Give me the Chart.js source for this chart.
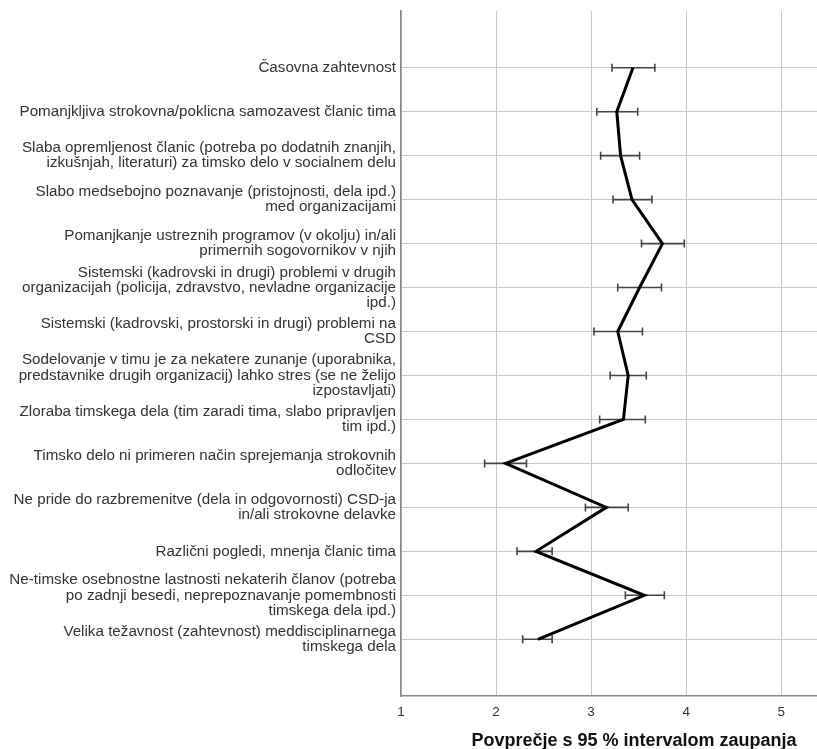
<!DOCTYPE html>
<html>
<head>
<meta charset="utf-8">
<script src="https://cdn.jsdelivr.net/npm/chart.js@4.4.0/dist/chart.umd.min.js"></script>
<style>
  html, body { margin: 0; padding: 0; background: #fff; overflow: hidden; }
  #wrap { width: 817px; height: 749px; position: relative; }
</style>
</head>
<body>
<div id="wrap"><canvas id="chart" width="817" height="749"></canvas></div>
<script>
// Category labels (already wrapped like in the original)
const categories = [
    ["Časovna zahtevnost"],
    ["Pomanjkljiva strokovna/poklicna samozavest članic tima"],
    ["Slaba opremljenost članic (potreba po dodatnih znanjih,", "izkušnjah, literaturi) za timsko delo v socialnem delu"],
    ["Slabo medsebojno poznavanje (pristojnosti, dela ipd.)", "med organizacijami"],
    ["Pomanjkanje ustreznih programov (v okolju) in/ali", "primernih sogovornikov v njih"],
    ["Sistemski (kadrovski in drugi) problemi v drugih", "organizacijah (policija, zdravstvo, nevladne organizacije", "ipd.)"],
    ["Sistemski (kadrovski, prostorski in drugi) problemi na", "CSD"],
    ["Sodelovanje v timu je za nekatere zunanje (uporabnika,", "predstavnike drugih organizacij) lahko stres (se ne želijo", "izpostavljati)"],
    ["Zloraba timskega dela (tim zaradi tima, slabo pripravljen", "tim ipd.)"],
    ["Timsko delo ni primeren način sprejemanja strokovnih", "odločitev"],
    ["Ne pride do razbremenitve (dela in odgovornosti) CSD-ja", "in/ali strokovne delavke"],
    ["Različni pogledi, mnenja članic tima"],
    ["Ne-timske osebnostne lastnosti nekaterih članov (potreba", "po zadnji besedi, neprepoznavanje pomembnosti", "timskega dela ipd.)"],
    ["Velika težavnost (zahtevnost) meddisciplinarnega", "timskega dela"]
];

// Means and 95 % confidence interval bounds
const means = [3.44, 3.27, 3.31, 3.43, 3.75, 3.51, 3.28, 3.39, 3.34, 2.10, 3.16, 2.42, 3.56, 2.44];
const lower = [3.22, 3.06, 3.10, 3.23, 3.53, 3.28, 3.03, 3.20, 3.09, 1.88, 2.94, 2.22, 3.36, 2.28];
const upper = [3.67, 3.49, 3.51, 3.64, 3.98, 3.74, 3.54, 3.58, 3.57, 2.32, 3.39, 2.59, 3.77, 2.59];

// Axis ticks
const xTicks = [1, 2, 3, 4, 5];
const xTitle = "Povprečje s 95 % intervalom zaupanja";

// Draw the error bars under the mean line
const errorBars = {
    id: 'errorBars',
    beforeDatasetsDraw(chart) {
        const ctx = chart.ctx;
        const xs = chart.scales.x;
        const ys = chart.scales.y;
        ctx.save();
        ctx.strokeStyle = '#444';
        ctx.lineWidth = 1.6;
        means.forEach((m, i) => {
            const y = ys.getPixelForValue(i);
            const x1 = xs.getPixelForValue(lower[i]);
            const x2 = xs.getPixelForValue(upper[i]);
            ctx.beginPath();
            ctx.moveTo(x1, y);
            ctx.lineTo(x2, y);
            ctx.moveTo(x1, y - 4);
            ctx.lineTo(x1, y + 4);
            ctx.moveTo(x2, y - 4);
            ctx.lineTo(x2, y + 4);
            ctx.stroke();
        });
        ctx.restore();
    }
};

// Axis title, centred under the (cropped) axis like the original
const axisTitle = {
    id: 'axisTitle',
    afterDraw(chart) {
        const ctx = chart.ctx;
        ctx.save();
        ctx.font = 'bold 18px "Liberation Sans", Arial, sans-serif';
        ctx.fillStyle = '#111';
        ctx.textAlign = 'center';
        ctx.textBaseline = 'middle';
        ctx.fillText(xTitle, 634, 741);
        ctx.restore();
    }
};

new Chart(document.getElementById('chart'), {
    type: 'line',
    data: {
        datasets: [{
            label: 'Povprečje',
            data: means.map((m, i) => ({ x: m, y: i })),
            borderColor: '#000',
            borderWidth: 3,
            pointRadius: 0,
            tension: 0,
            fill: false
        }]
    },
    options: {
        responsive: false,
        animation: false,
        layout: { padding: { top: 11, right: 0, left: 0, bottom: 0 } },
        plugins: {
            legend: { display: false },
            tooltip: { enabled: false }
        },
        scales: {
            x: {
                type: 'linear',
                min: 1,
                max: 5.376,
                afterBuildTicks: scale => { scale.ticks = xTicks.map(v => ({ value: v })); },
                afterFit: scale => { scale.height = 53; scale.paddingLeft = 0; scale.paddingRight = 0; },
                grid: { color: '#c8c8c8', lineWidth: 1, drawTicks: false },
                border: { display: true, color: '#888', width: 1.5 },
                ticks: {
                    color: '#333',
                    padding: 8,
                    font: { family: '"Liberation Sans", Arial, sans-serif', size: 13.5 }
                }
            },
            y: {
                type: 'linear',
                reverse: true,
                min: -1.29,
                max: 14.29,
                afterBuildTicks: scale => { scale.ticks = categories.map((c, i) => ({ value: i })); },
                afterFit: scale => { scale.width = 401; scale.paddingTop = 0; scale.paddingBottom = 0; },
                grid: { color: '#c8c8c8', lineWidth: 1, drawTicks: false },
                border: { display: true, color: '#888', width: 1.5 },
                ticks: {
                    color: '#333',
                    padding: 5,
                    font: { family: '"Liberation Sans", Arial, sans-serif', size: 15.2, lineHeight: 1.0 },
                    callback: value => categories[value]
                }
            }
        }
    },
    plugins: [errorBars, axisTitle]
});
</script>
</body>
</html>
